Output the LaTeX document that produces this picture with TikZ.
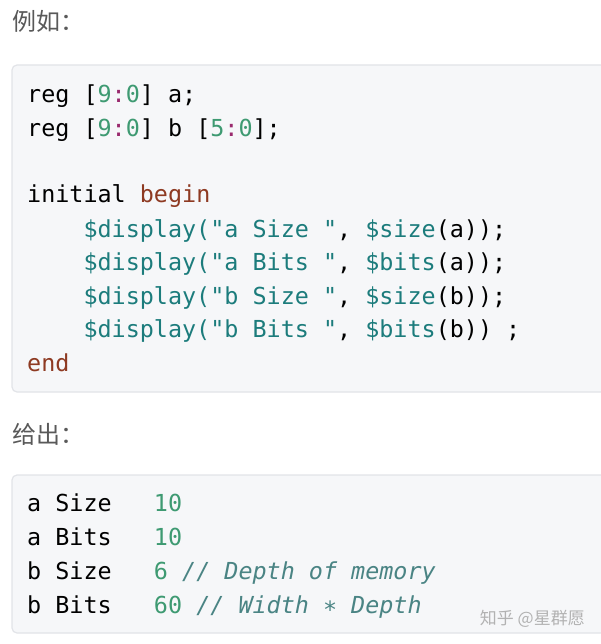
\documentclass[tikz,border=0pt]{standalone}
\usepackage{fontspec}
\setmonofont{DejaVu Sans Mono}
\newfontfamily\cjk{Noto Sans CJK SC}
\definecolor{num}{HTML}{3E9A72}
\definecolor{col}{HTML}{9A2A6E}
\definecolor{kw}{HTML}{8E3A22}
\definecolor{fn}{HTML}{1C7C7C}
\definecolor{cm}{HTML}{4A8484}
\definecolor{boxbg}{HTML}{F6F7F9}
\definecolor{boxbd}{HTML}{E2E4E8}
\tikzset{
 codeline/.style={anchor=base west,inner sep=0pt,font=\ttfamily\fontsize{23.4}{23.4}\selectfont,text=black},
 head/.style={anchor=base west,inner sep=0pt,font=\cjk\fontsize{24}{24}\selectfont,text=black!65},
 codebox/.style={fill=boxbg,draw=boxbd,line width=1.2pt,rounded corners=5pt}
}
\newcommand{\N}[1]{\textcolor{num}{#1}}
\newcommand{\C}{\textcolor{col}{:}}
\newcommand{\F}[1]{\textcolor{fn}{#1}}
\newcommand{\K}[1]{\textcolor{kw}{#1}}
\newcommand{\M}[1]{\textcolor{cm}{\itshape #1}}
\begin{document}
\begin{tikzpicture}[x=1pt,y=-1pt]
\useasboundingbox[fill=white] (0,0) rectangle (600,644);
\node[head] (h1) at (12,31) {例如：};
\draw[codebox] (12,65) rectangle (610,392);
\node[codeline] (l1) at (27,103) {reg [\N{9}\C\N{0}] a;};
\node[codeline] (l2) at (27,137) {reg [\N{9}\C\N{0}] b [\N{5}\C\N{0}];};
\node[codeline] (l3) at (27,203) {initial \K{begin}};
\node[codeline] (l4) at (27,237) {\ \ \ \ \F{\$display("a Size "}, \F{\$size}(a));};
\node[codeline] (l5) at (27,270) {\ \ \ \ \F{\$display("a Bits "}, \F{\$bits}(a));};
\node[codeline] (l6) at (27,304) {\ \ \ \ \F{\$display("b Size "}, \F{\$size}(b));};
\node[codeline] (l7) at (27,337) {\ \ \ \ \F{\$display("b Bits "}, \F{\$bits}(b)) ;};
\node[codeline] (l8) at (27,371) {\K{end}};
\node[head] (h2) at (12,443) {给出：};
\draw[codebox] (12,475) rectangle (610,633);
\node[codeline] (o1) at (27,511) {a Size\ \ \ \N{10}};
\node[codeline] (o2) at (27,545) {a Bits\ \ \ \N{10}};
\node[codeline] (o3) at (27,579) {b Size\ \ \ \N{6} \M{// Depth of memory}};
\node[codeline] (o4) at (27,613) {b Bits\ \ \ \N{60} \M{// Width ∗ Depth}};
\node[anchor=base east,inner sep=0pt,font=\cjk\fontsize{17}{17}\selectfont,text=black!30] (wm) at (585,624) {知乎 @星群愿};
\end{tikzpicture}
\end{document}
